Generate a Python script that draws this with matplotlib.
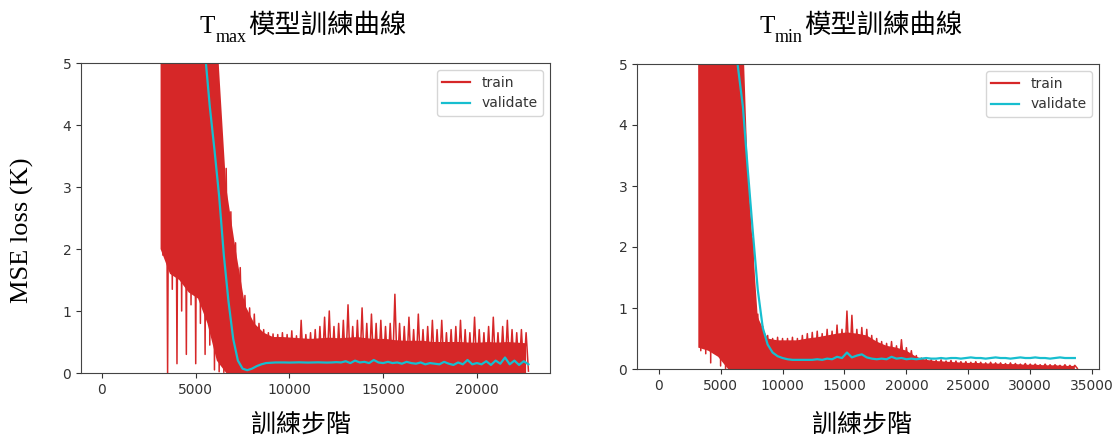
import numpy as np
import matplotlib
matplotlib.use("Agg")
import matplotlib.pyplot as plt

# ---- Tmax model ----
# train loss spikes: alternating peaks / dips
tmax_train_start = 3125
tmax_train_every = 250
tmax_train_peaks = [
    8, 8, 8, 8, 8, 8, 8, 8, 8, 8,
    8, 8, 7, 3.8, 3.3, 2.6, 2.1, 1.7, 1.25, 1.05,
    0.95, 0.8, 0.7, 0.65, 0.63, 0.62, 0.65, 0.62, 0.68, 0.6,
    0.85, 0.62, 0.65, 0.7, 0.75, 0.9, 1.0, 0.75, 0.8, 0.85,
    1.1, 0.75, 0.85, 1.05, 0.8, 0.95, 0.8, 0.85, 0.75, 0.8,
    1.27, 0.8, 0.75, 0.9, 0.7, 0.95, 0.7, 0.75, 0.85, 0.7,
    0.85, 0.65, 0.7, 0.75, 0.85, 0.7, 0.65, 0.9, 0.7, 0.65,
    0.75, 0.9, 0.65, 0.75, 0.85, 0.7, 0.65, 0.7, 0.65,
]
tmax_train_dips = [
    1.9, 0.0, 1.35, 0.15, 1.0, 0.3, 1.1, 0.15, 0.8, 0.3,
    0.45, 0.05, 0.02, 0.01, 0.03, 0.02, 0.01, 0.02, 0.03, 0.01,
    0.02, 0.03, 0.01, 0.02, 0.04, 0.02, 0.01, 0.03, 0.02, 0.02,
    0.03, 0.02, 0.01, 0.02, 0.03, 0.04, 0.02, 0.01, 0.02, 0.03,
    0.02, 0.01, 0.03, 0.02, 0.02, 0.04, 0.01, 0.02, 0.03, 0.02,
    0.01, 0.02, 0.03, 0.02, 0.01, 0.02, 0.04, 0.02, 0.01, 0.03,
    0.02, 0.02, 0.01, 0.03, 0.02, 0.01, 0.02, 0.03, 0.02, 0.01,
    0.02, 0.03, 0.01, 0.02, 0.02, 0.03, 0.01, 0.02, 0.03,
]
# dense core of the train noise (solid red band): top and bottom edges
tmax_core_start = 3125
tmax_core_every = 500
tmax_core_top = [
    8, 8, 8, 8, 8, 8, 5.5, 3.0, 2.0, 1.1,
    0.8, 0.65, 0.58, 0.58, 0.57, 0.56, 0.55, 0.56, 0.57, 0.56,
    0.57, 0.58, 0.56, 0.55, 0.55, 0.53, 0.52, 0.52, 0.52, 0.5,
    0.5, 0.5, 0.5, 0.49, 0.49, 0.5, 0.49, 0.5, 0.49, 0.48,
]
tmax_core_bottom = [
    2.0, 1.6, 1.5, 1.3, 1.2, 0.8, 0.2, 0, 0, 0,
    0, 0, 0, 0, 0, 0, 0, 0, 0, 0,
    0, 0, 0, 0, 0, 0, 0, 0, 0, 0,
    0, 0, 0, 0, 0, 0, 0, 0, 0, 0,
]
tmax_val_start = 5250
tmax_val_every = 250
tmax_val = [
    6.2, 5.15, 4.3, 3.6, 2.85, 1.9, 1.15, 0.55, 0.2, 0.07,
    0.045, 0.07, 0.11, 0.14, 0.16, 0.165, 0.17, 0.17, 0.17, 0.168,
    0.17, 0.172, 0.17, 0.168, 0.17, 0.172, 0.17, 0.168, 0.17, 0.175,
    0.17, 0.19, 0.16, 0.2, 0.17, 0.18, 0.16, 0.21, 0.17, 0.16,
    0.18, 0.16, 0.17, 0.15, 0.18, 0.16, 0.15, 0.17, 0.14, 0.16,
    0.15, 0.14, 0.18, 0.15, 0.13, 0.17, 0.14, 0.21, 0.14, 0.16,
    0.14, 0.19, 0.13, 0.2, 0.15, 0.25, 0.14, 0.2, 0.13, 0.19,
    0.14,
]

# ---- Tmin model ----
tmin_train_start = 3200
tmin_train_every = 400
tmin_train_peaks = [
    8, 8, 8, 8, 8, 8, 8, 8, 8, 4.25,
    3.1, 2.15, 0.9, 0.7, 0.55, 0.5, 0.52, 0.5, 0.5, 0.52,
    0.5, 0.55, 0.58, 0.6, 0.62, 0.58, 0.65, 0.62, 0.72, 0.65,
    0.95, 0.88, 0.65, 0.68, 0.65, 0.55, 0.5, 0.45, 0.42, 0.45,
    0.38, 0.48, 0.35, 0.3, 0.22, 0.18, 0.16, 0.15, 0.14, 0.15,
    0.13, 0.14, 0.13, 0.12, 0.12, 0.11, 0.12, 0.11, 0.1, 0.11,
    0.1, 0.1, 0.09, 0.1, 0.09, 0.08, 0.09, 0.08, 0.08, 0.07,
    0.08, 0.07, 0.07, 0.06, 0.07, 0.06, 0.06,
]
tmin_train_dips = [
    0.3, 0.25, 0.1, 0.3, 0.05, 0.0, 0.02, 0.01, 0.02, 0.01,
    0.02, 0.01, 0.02, 0.03, 0.01, 0.02, 0.01, 0.02, 0.03, 0.01,
    0.02, 0.01, 0.03, 0.02, 0.01, 0.02, 0.02, 0.01, 0.03, 0.02,
    0.01, 0.02, 0.03, 0.01, 0.02, 0.01, 0.02, 0.03, 0.02, 0.01,
    0.02, 0.01, 0.02, 0.01, 0.02, 0.01, 0.01, 0.02, 0.01, 0.01,
    0.02, 0.01, 0.01, 0.02, 0.01, 0.01, 0.02, 0.01, 0.01, 0.01,
    0.01, 0.02, 0.01, 0.01, 0.01, 0.02, 0.01, 0.01, 0.02, 0.01,
    0.01, 0.01, 0.02, 0.01, 0.01, 0.01, 0.01,
]
tmin_core_start = 3200
tmin_core_every = 800
tmin_core_top = [
    8, 8, 8, 8, 8, 3.2, 0.85, 0.5, 0.47, 0.47,
    0.47, 0.5, 0.52, 0.55, 0.58, 0.6, 0.58, 0.55, 0.45, 0.38,
    0.35, 0.3, 0.2, 0.15, 0.13, 0.12, 0.11, 0.1, 0.1, 0.09,
    0.09, 0.08, 0.08, 0.07, 0.07, 0.06, 0.06, 0.05, 0.05,
]
tmin_core_bottom = [
    0.35, 0.3, 0.2, 0, 0, 0, 0, 0, 0, 0,
    0, 0, 0, 0, 0, 0, 0, 0, 0, 0,
    0, 0, 0, 0, 0, 0, 0, 0, 0, 0,
    0, 0, 0, 0, 0, 0, 0, 0, 0,
]
tmin_val_start = 6000
tmin_val_every = 400
tmin_val = [
    6.0, 4.95, 4.3, 3.25, 2.25, 1.3, 0.68, 0.4, 0.27, 0.21,
    0.18, 0.16, 0.15, 0.15, 0.15, 0.15, 0.15, 0.16, 0.15, 0.17,
    0.16, 0.2, 0.18, 0.27, 0.19, 0.22, 0.24, 0.19, 0.17, 0.16,
    0.17, 0.16, 0.2, 0.17, 0.18, 0.16, 0.17, 0.16, 0.17, 0.18,
    0.17, 0.17, 0.18, 0.17, 0.18, 0.18, 0.17, 0.18, 0.19, 0.18,
    0.18, 0.17, 0.18, 0.19, 0.18, 0.18, 0.17, 0.18, 0.19, 0.18,
    0.18, 0.19, 0.18, 0.18, 0.17, 0.18, 0.19, 0.18, 0.18, 0.18,
]

W, H = 1112, 436
SERIF = ["Liberation Serif", "Noto Sans CJK TC"]
CJK = "Noto Sans CJK TC"
TICK_COLOR = "#333333"
RED = "tab:red"


# One training-curve panel
def draw_panel(ax, train, core, valid, xlim):
    start, every, peaks, dips = train
    steps = start + every * np.arange(len(peaks))
    # spikes: zig-zag between peaks and dips
    x = np.column_stack([steps, steps + every / 2]).ravel()
    y = np.column_stack([peaks, dips]).ravel()
    ax.plot(x, y, color=RED, lw=1.1, label="train")

    # dense part of the noise shows as a solid band
    cstart, cevery, ctop, cbot = core
    csteps = cstart + cevery * np.arange(len(ctop))
    ax.fill_between(csteps, cbot, ctop, color=RED, lw=0)

    vstart, vevery, val = valid
    vsteps = vstart + vevery * np.arange(len(val))
    ax.plot(vsteps, val, color="tab:cyan", lw=1.6, label="validate")

    ax.set_xlim(*xlim)
    ax.set_ylim(0, 5)
    ax.tick_params(labelsize=10, colors=TICK_COLOR)
    for sp in ax.spines.values():
        sp.set_color("#444444")
    leg = ax.legend(loc="upper right", fontsize=10)
    for t in leg.get_texts():
        t.set_color(TICK_COLOR)
    for ln in leg.get_lines():
        ln.set_linewidth(1.6)


# Title like "T_max模型訓練曲線" built from three pieces of text
def add_title(ax, x_px, sub):
    fig = ax.figure
    base = 1 - 33 / H
    t = fig.text(x_px / W, base, "T", fontsize=18, family="Liberation Serif",
                 va="baseline", ha="left")
    s = ax.annotate(sub, xy=(1, 1 - 42 / H), xycoords=(t, "figure fraction"),
                    fontsize=13, family="Liberation Serif", va="baseline",
                    ha="left", annotation_clip=False)
    ax.annotate("模型訓練曲線", xy=(1, base), xycoords=(s, "figure fraction"),
                xytext=(1, 0), textcoords="offset points",
                fontsize=19, family=CJK, va="baseline", ha="left",
                annotation_clip=False)


fig = plt.figure(figsize=(W / 100, H / 100), dpi=100)
ax1 = fig.add_axes([81 / W, 1 - 373 / H, (550 - 81) / W, (373 - 63) / H])
ax2 = fig.add_axes([637 / W, 1 - 369 / H, (1099 - 637) / W, (369 - 64) / H])

draw_panel(ax1,
           (tmax_train_start, tmax_train_every, tmax_train_peaks, tmax_train_dips),
           (tmax_core_start, tmax_core_every, tmax_core_top, tmax_core_bottom),
           (tmax_val_start, tmax_val_every, tmax_val),
           (-1120, 23900))
draw_panel(ax2,
           (tmin_train_start, tmin_train_every, tmin_train_peaks, tmin_train_dips),
           (tmin_core_start, tmin_core_every, tmin_core_top, tmin_core_bottom),
           (tmin_val_start, tmin_val_every, tmin_val),
           (-1750, 35550))

add_title(ax1, 200, "max")
add_title(ax2, 759, "min")

fig.text(22 / W, 1 - 230 / H, "MSE loss (K)", rotation=90, ha="center",
         va="center", family=SERIF, fontsize=19)
fig.text(301 / W, 11 / H, "訓練步階", ha="center", va="center",
         family=CJK, fontsize=18)
fig.text(862 / W, 11 / H, "訓練步階", ha="center", va="center",
         family=CJK, fontsize=18)

fig.savefig("out.png", dpi=100)
